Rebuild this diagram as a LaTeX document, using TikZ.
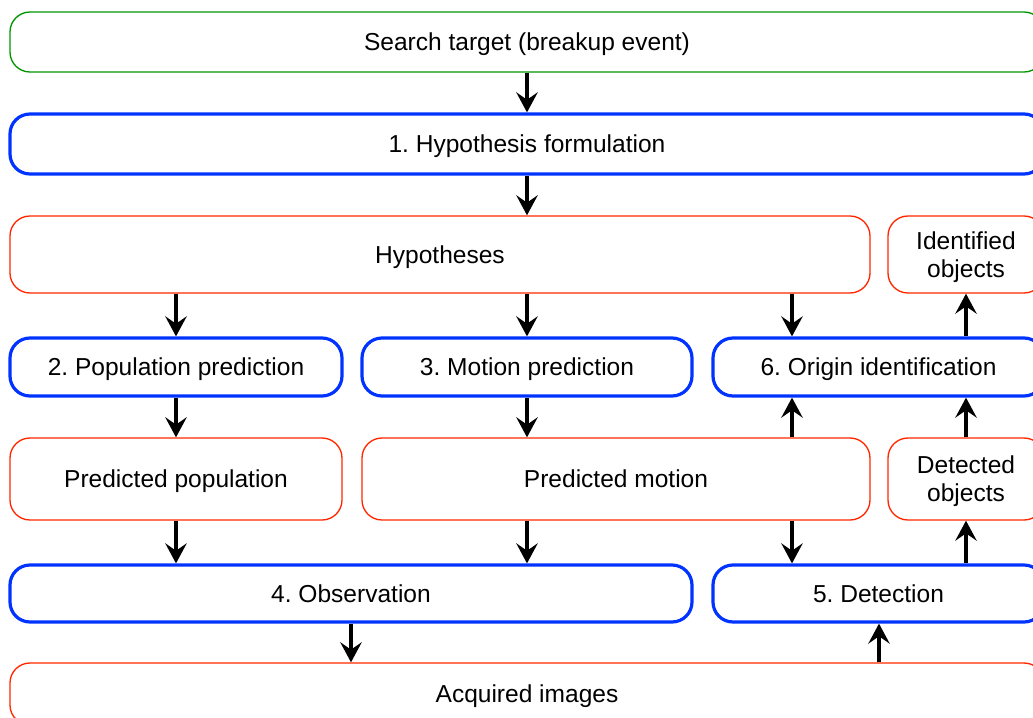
\documentclass[tikz,border=0pt]{standalone}
\usepackage{fontspec}
\setmainfont{Liberation Sans}
\usetikzlibrary{arrows.meta}
\frenchspacing
\definecolor{cgreen}{RGB}{0,150,0}
\definecolor{cblue}{RGB}{0,51,255}
\definecolor{cred}{RGB}{255,40,0}
\tikzset{
  x=0.75pt, y=-0.75pt,
  basebox/.style={rounded corners=15pt, inner sep=0pt, align=center, text depth=0pt, font=\fontsize{18.4}{21}\selectfont},
  gbox/.style={basebox, draw=cgreen, line width=1pt},
  bbox/.style={basebox, draw=cblue, line width=2.4pt},
  rbox/.style={basebox, draw=cred, line width=1pt},
  arr/.style={-{Stealth[length=15pt,width=16pt,inset=5.5pt]}, line width=2.4pt, black},
}
\newcommand\mybx[7]{\node[#1, minimum width={(#5-#3)*0.75pt}, minimum height={(#6-#4)*0.75pt}] (#2) at ({(#3+#5)/2},{(#4+#6)/2}) {#7};}
\begin{document}
\begin{tikzpicture}
\useasboundingbox (0,0) rectangle (1033,718);
\clip (0,0) rectangle (1033,718);
\mybx{gbox}{st}{10}{12}{1044}{72}{Search target (breakup event)}
\mybx{bbox}{hf}{10}{114}{1044}{174}{1. Hypothesis formulation}
\mybx{rbox}{hyp}{10}{216}{870}{293}{Hypotheses}
\mybx{rbox}{io}{888}{216}{1044}{293}{Identified\\objects}
\mybx{bbox}{pp}{10}{338}{342}{396}{2. Population prediction}
\mybx{bbox}{mp}{362}{338}{692}{396}{3. Motion prediction}
\mybx{bbox}{oi}{713}{338}{1044}{396}{6. Origin identification}
\mybx{rbox}{ppop}{10}{438}{342}{520}{Predicted population}
\mybx{rbox}{pmot}{362}{438}{870}{520}{Predicted motion}
\mybx{rbox}{dobj}{888}{438}{1044}{520}{Detected\\objects}
\mybx{bbox}{obs}{10}{565}{692}{622}{4. Observation}
\mybx{bbox}{det}{713}{565}{1044}{622}{5. Detection}
\mybx{rbox}{acq}{10}{663}{1044}{725}{Acquired images}
% helper x positions
\coordinate (xa) at (527,0);
\coordinate (xb) at (792,0);
\coordinate (xc) at (966,0);
\coordinate (xd) at (351,0);
\coordinate (xe) at (879,0);
% arrows
\draw[arr] (st.south -| xa) -- (hf.north -| xa);
\draw[arr] (hf.south -| xa) -- (hyp.north -| xa);
\draw[arr] (hyp.south -| pp.north) -- (pp.north);
\draw[arr] (hyp.south -| mp.north) -- (mp.north);
\draw[arr] (hyp.south -| xb) -- (oi.north -| xb);
\draw[arr] (oi.north -| xc) -- (io.south -| xc);
\draw[arr] (pp.south) -- (ppop.north -| pp.south);
\draw[arr] (mp.south) -- (pmot.north -| mp.south);
\draw[arr] (pmot.north -| xb) -- (oi.south -| xb);
\draw[arr] (dobj.north -| xc) -- (oi.south -| xc);
\draw[arr] (ppop.south) -- (obs.north -| ppop.south);
\draw[arr] (pmot.south -| xa) -- (obs.north -| xa);
\draw[arr] (pmot.south -| xb) -- (det.north -| xb);
\draw[arr] (det.north -| xc) -- (dobj.south -| xc);
\draw[arr] (obs.south -| xd) -- (acq.north -| xd);
\draw[arr] (acq.north -| xe) -- (det.south -| xe);
\end{tikzpicture}
\end{document}
